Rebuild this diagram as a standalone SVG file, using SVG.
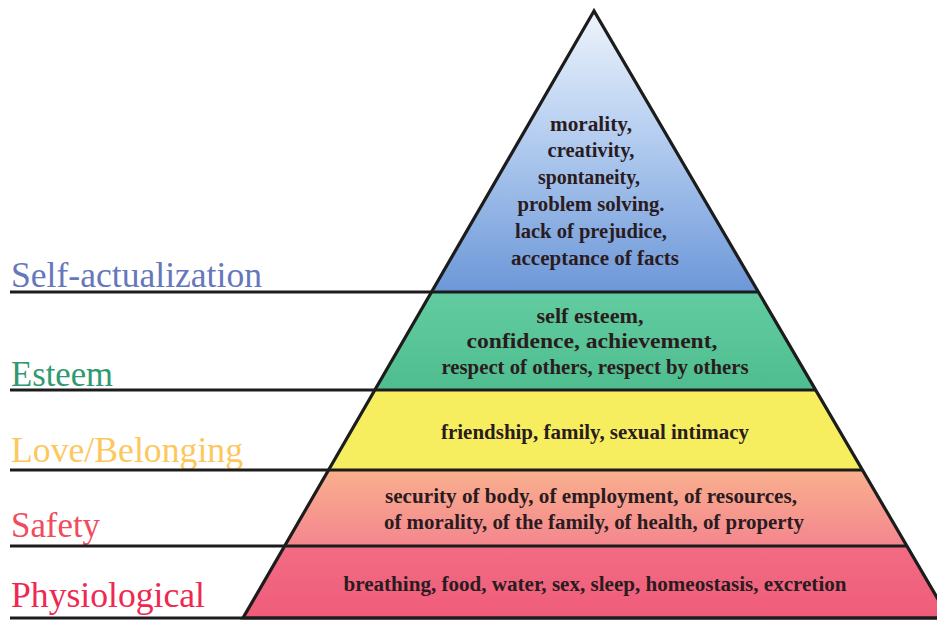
<svg xmlns="http://www.w3.org/2000/svg" width="937" height="622" viewBox="0 0 937 622">
<defs>
<linearGradient id="gBlue" x1="0" y1="11" x2="0" y2="292" gradientUnits="userSpaceOnUse">
<stop offset="0" stop-color="#eef4fc"/>
<stop offset="0.45" stop-color="#b4cdf0"/>
<stop offset="1" stop-color="#6c97d8"/>
</linearGradient>
<linearGradient id="gGreen" x1="0" y1="292" x2="0" y2="390" gradientUnits="userSpaceOnUse">
<stop offset="0" stop-color="#62cca0"/>
<stop offset="1" stop-color="#4fbd8f"/>
</linearGradient>
<linearGradient id="gSafety" x1="0" y1="470" x2="0" y2="546" gradientUnits="userSpaceOnUse">
<stop offset="0" stop-color="#f9b08e"/>
<stop offset="1" stop-color="#f4868e"/>
</linearGradient>
<linearGradient id="gPhys" x1="0" y1="546" x2="0" y2="618" gradientUnits="userSpaceOnUse">
<stop offset="0" stop-color="#f26c83"/>
<stop offset="1" stop-color="#ef5c7a"/>
</linearGradient>
</defs>
<style>
.lbl{font-family:"Liberation Serif","Times New Roman",serif;font-size:36px}
.in{font-family:"Liberation Serif","Times New Roman",serif;font-size:20px;font-weight:bold;fill:#2a1c1e;text-anchor:middle}
.ln{stroke:#1c1c1c;stroke-width:3.2;fill:none}
</style>
<rect width="937" height="622" fill="#ffffff"/>
<g id="self-actualization">
<polygon points="594,11 432,292 758,292" fill="url(#gBlue)"/>
<text class="lbl" x="11" y="287" fill="#6677bb" textLength="251" lengthAdjust="spacingAndGlyphs">Self-actualization</text>
<text class="in" x="591" y="131" textLength="82" lengthAdjust="spacingAndGlyphs">morality,</text>
<text class="in" x="591" y="157" textLength="87" lengthAdjust="spacingAndGlyphs">creativity,</text>
<text class="in" x="589" y="184" textLength="102" lengthAdjust="spacingAndGlyphs">spontaneity,</text>
<text class="in" x="591" y="211" textLength="147" lengthAdjust="spacingAndGlyphs">problem solving.</text>
<text class="in" x="591" y="238" textLength="152" lengthAdjust="spacingAndGlyphs">lack of prejudice,</text>
<text class="in" x="595" y="265" textLength="168" lengthAdjust="spacingAndGlyphs">acceptance of facts</text>
</g>
<g id="esteem">
<polygon points="432,292 758,292 815,390 375,390" fill="url(#gGreen)"/>
<text class="lbl" x="11" y="386" fill="#2e9a70" textLength="102" lengthAdjust="spacingAndGlyphs">Esteem</text>
<text class="in" x="590" y="323" textLength="107" lengthAdjust="spacingAndGlyphs">self esteem,</text>
<text class="in" x="592" y="348" textLength="251" lengthAdjust="spacingAndGlyphs">confidence, achievement,</text>
<text class="in" x="595" y="374" textLength="307" lengthAdjust="spacingAndGlyphs">respect of others, respect by others</text>
</g>
<g id="love-belonging">
<polygon points="375,390 815,390 862,470 329,470" fill="#f6ee5e"/>
<text class="lbl" x="11" y="462" fill="#fcc85e" textLength="232" lengthAdjust="spacingAndGlyphs">Love/Belonging</text>
<text class="in" x="595" y="439" textLength="308" lengthAdjust="spacingAndGlyphs">friendship, family, sexual intimacy</text>
</g>
<g id="safety">
<polygon points="329,470 862,470 907,546 285,546" fill="url(#gSafety)"/>
<text class="lbl" x="11" y="537" fill="#f04c5c" textLength="89" lengthAdjust="spacingAndGlyphs">Safety</text>
<text class="in" x="591" y="503" textLength="412" lengthAdjust="spacingAndGlyphs">security of body, of employment, of resources,</text>
<text class="in" x="594" y="529" textLength="420" lengthAdjust="spacingAndGlyphs">of morality, of the family, of health, of property</text>
</g>
<g id="physiological">
<polygon points="285,546 907,546 949,618 243,618" fill="url(#gPhys)"/>
<text class="lbl" x="11" y="607" fill="#ee2850" textLength="194" lengthAdjust="spacingAndGlyphs">Physiological</text>
<text class="in" x="595" y="591" textLength="503" lengthAdjust="spacingAndGlyphs">breathing, food, water, sex, sleep, homeostasis, excretion</text>
</g>
<g id="lines">
<polygon class="ln" points="594,11 243,618 949,618"/>
<line class="ln" x1="10" y1="292" x2="758" y2="292"/>
<line class="ln" x1="10" y1="390" x2="815" y2="390"/>
<line class="ln" x1="10" y1="470" x2="862" y2="470"/>
<line class="ln" x1="10" y1="546" x2="907" y2="546"/>
<line class="ln" x1="10" y1="618" x2="937" y2="618"/>
</g>
</svg>
